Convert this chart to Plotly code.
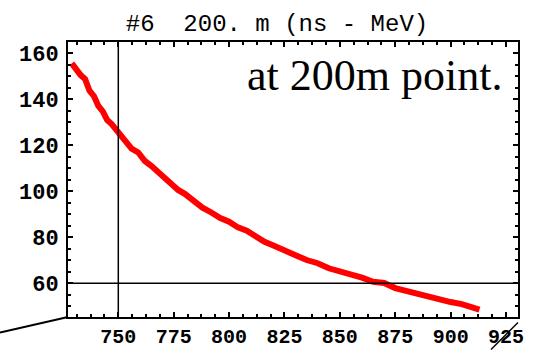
import plotly.graph_objects as go

# Flight time (ns) vs. energy (MeV) at the 200 m point
time_ns = [729, 731, 733, 735, 737, 739, 741, 743, 745, 747,
           750, 753, 756, 759, 762, 765, 768, 771, 774, 777,
           780, 784, 788, 792, 796, 800, 804, 808, 812, 816,
           820, 825, 830, 835, 840, 845, 850, 855, 860, 865,
           870, 875, 880, 885, 890, 895, 900, 905, 910, 913]
energy_mev = [155.7, 153.0, 150.6, 148.9, 143.8, 141.5, 137.2, 134.8, 131.0, 129.3,
              125.6, 122.8, 118.6, 116.9, 113.2, 111.0, 108.3, 106.4, 103.2, 100.6,
              98.9, 95.6, 92.9, 90.8, 88.4, 86.8, 84.3, 82.9, 80.4, 78.0,
              76.4, 74.0, 72.2, 70.1, 68.7, 66.5, 65.2, 63.3, 62.4, 60.6,
              60.1, 57.9, 56.6, 55.2, 53.9, 53.1, 51.8, 50.9, 49.3, 48.5]

ref_time = 750
ref_energy = 60

x_ticks = [750, 775, 800, 825, 850, 875, 900, 925]
y_ticks = [60, 80, 100, 120, 140, 160]

title_text = "#6  200. m (ns - MeV)"
note_text = "at 200m point."

fig = go.Figure()
fig.add_trace(go.Scatter(
    x=time_ns, y=energy_mev, mode="lines",
    line=dict(color="#ff0000", width=6),
    showlegend=False, hoverinfo="skip",
))

# reference cross-hair lines
fig.add_shape(type="line", xref="x", yref="paper", x0=ref_time, x1=ref_time, y0=0, y1=1,
              line=dict(color="black", width=1.5))
fig.add_shape(type="line", xref="paper", yref="y", x0=0, x1=1, y0=ref_energy, y1=ref_energy,
              line=dict(color="black", width=1.5))

# leader strokes outside the frame
fig.add_shape(type="line", xref="paper", yref="paper", x0=-0.151, y0=-0.056, x1=0, y1=0,
              line=dict(color="black", width=2))
fig.add_shape(type="line", xref="paper", yref="paper", x0=0.94, y0=-0.118, x1=1.0, y1=-0.02,
              line=dict(color="black", width=1.5))

fig.add_annotation(text=note_text, xref="paper", yref="paper", x=0.681, y=0.88,
                   xanchor="center", yanchor="middle", showarrow=False,
                   font=dict(family="Liberation Serif", size=44, color="black"))

fig.update_xaxes(
    range=[727.3, 930.4], tickmode="array", tickvals=x_ticks,
    ticktext=[str(v) for v in x_ticks],
    ticks="inside", ticklen=5, tickwidth=1.5, tickcolor="black",
    minor=dict(dtick=6.25, tick0=750, ticks="inside", ticklen=3, tickwidth=1.5, tickcolor="black"),
    showline=True, linecolor="black", linewidth=2, mirror="allticks",
    showgrid=False, zeroline=False, ticklabelstandoff=0, automargin=False,
    tickfont=dict(family="Liberation Mono", size=20, color="black", weight="bold"),
)
fig.update_yaxes(
    range=[45.3, 165.0], tickmode="array", tickvals=y_ticks,
    ticktext=[str(v) for v in y_ticks],
    ticks="inside", ticklen=5, tickwidth=1.5, tickcolor="black",
    minor=dict(dtick=5, tick0=60, ticks="inside", ticklen=3, tickwidth=1.5, tickcolor="black"),
    showline=True, linecolor="black", linewidth=2, mirror="allticks",
    showgrid=False, zeroline=False, ticklabelstandoff=3, automargin=False,
    tickfont=dict(family="Liberation Mono", size=22, color="black", weight="bold"),
)

fig.update_layout(
    width=542, height=350,
    margin=dict(l=68, r=24, t=42, b=32.5),
    paper_bgcolor="white", plot_bgcolor="white",
    title=dict(text=title_text, x=0.511, xref="container", xanchor="center",
               y=1 - 23 / 350, yref="container", yanchor="middle",
               font=dict(family="Liberation Mono", size=24, color="black"),
               automargin=False),
)

fig.write_html("out.html")
